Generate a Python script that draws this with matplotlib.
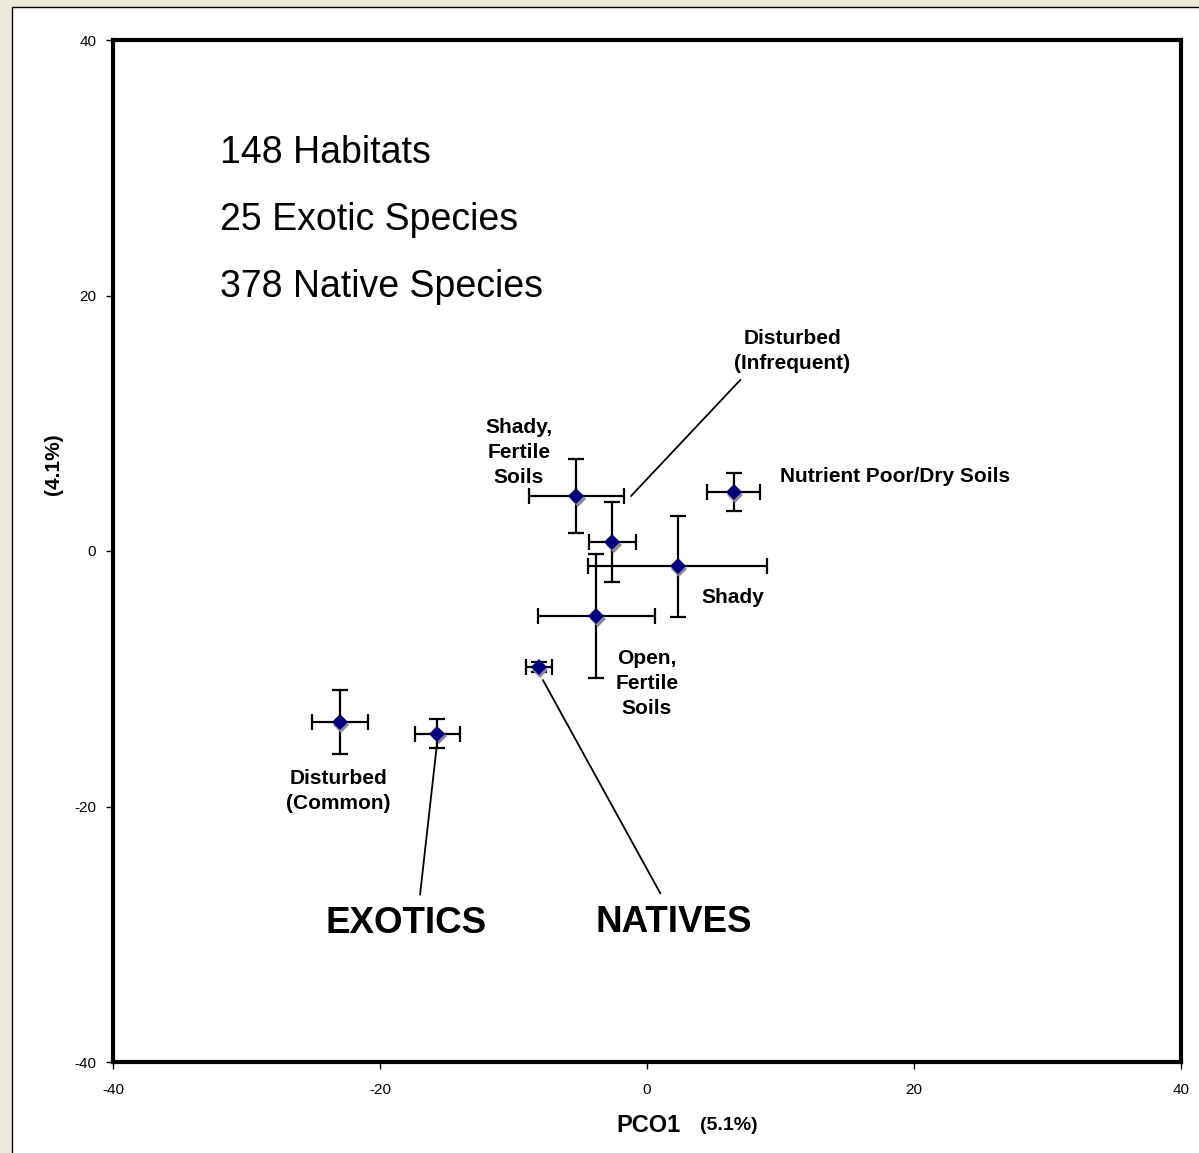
import matplotlib
matplotlib.use("Agg")
import matplotlib.pyplot as plt
from matplotlib.patches import Rectangle
from matplotlib.transforms import offset_copy

plt.rcParams['font.family'] = ['Liberation Sans', 'DejaVu Sans']
plt.rcParams['axes.unicode_minus'] = False

# habitat groups (PCO1, PCO2) with error bars
groups = ["Disturbed (Common)", "Exotics", "Natives", "Shady, Fertile Soils",
          "Disturbed (Infrequent)", "Shady", "Open, Fertile Soils",
          "Nutrient Poor/Dry Soils"]
pco1 = [-23.0, -15.7, -8.1, -5.3, -2.6, 2.3, -3.8, 6.5]
pco2 = [-13.4, -14.3, -9.1, 4.3, 0.7, -1.2, -5.1, 4.6]
pco1_err = [2.1, 1.7, 1.0, 3.55, 1.75, 6.7, 4.4, 2.0]
pco2_err = [2.5, 1.15, 0.4, 2.9, 3.1, 3.95, 4.85, 1.5]

summary = ["148 Habitats", "25 Exotic Species", "378 Native Species"]
ticks = [-40, -20, 0, 20, 40]

fig = plt.figure(figsize=(11.99, 11.53), dpi=100, facecolor='#EDE9DA')
# white panel with thin border, behind the axes
fig.patches.append(Rectangle((12 / 1199, -0.1), 1.2, 1 - 7 / 1153 + 0.1,
                             transform=fig.transFigure, facecolor='white',
                             edgecolor='black', linewidth=1, zorder=-5))

ax = fig.add_axes([113 / 1199, 1 - 1062 / 1153, 1068 / 1199, 1022 / 1153])
ax.set_facecolor('white')
ax.set_zorder(2)

ax.errorbar(pco1, pco2, xerr=pco1_err, yerr=pco2_err, fmt='none',
            ecolor='black', elinewidth=1.6, capsize=6, capthick=1.6, zorder=2)
shadow = offset_copy(ax.transData, fig=fig, x=1.5, y=-2.5, units='dots')
ax.plot(pco1, pco2, 'D', color='#8c8c8c', markersize=8, markeredgewidth=0,
        transform=shadow, zorder=3)
ax.plot(pco1, pco2, 'D', color='#000080', markersize=8, markeredgewidth=0,
        zorder=4)

ax.set_xlim(-40, 40)
ax.set_ylim(-40, 40)
ax.set_xticks(ticks)
ax.set_yticks(ticks)
ax.tick_params(axis='both', direction='out', length=5, width=1, labelsize=11)
ax.tick_params(axis='x', pad=10)
ax.tick_params(axis='y', pad=7)
for s in ax.spines.values():
    s.set_linewidth(3)

# summary text
for i, t in enumerate(summary):
    ax.text(-32.0, 31.15 - 5.25 * i, t, fontsize=27, va='center', ha='left')

lab = dict(fontsize=15, fontweight='bold', ha='center', va='center',
           linespacing=1.4)
ax.text(-9.6, 7.7, "Shady,\nFertile\nSoils", **lab)
ax.text(10.9, 15.65, "Disturbed\n(Infrequent)", **lab)
ax.text(9.95, 5.8, "Nutrient Poor/Dry Soils", **dict(lab, ha='left'))
ax.text(6.45, -3.65, "Shady", **lab)
ax.text(0.0, -10.35, "Open,\nFertile\nSoils", **lab)
ax.text(-23.1, -18.75, "Disturbed\n(Common)", **lab)

big = dict(fontsize=26.5, fontweight='bold', ha='center', va='center')
ax.text(-18.05, -29.15, "EXOTICS", **big)
ax.text(2.0, -29.05, "NATIVES", **big)

# leader lines
line = dict(arrowstyle='-', color='black', lw=1.3, shrinkA=0, shrinkB=0)
ax.annotate('', xy=(-1.2, 4.3), xytext=(7.0, 13.4), arrowprops=line)
ax.annotate('', xy=(-15.7, -14.8), xytext=(-17.0, -26.9), arrowprops=line)
ax.annotate('', xy=(-7.8, -10.1), xytext=(1.0, -26.8), arrowprops=line)

# axis titles
fig.text(681 / 1199, 1 - 1125 / 1153, "PCO1", fontsize=17, fontweight='bold',
         ha='right', va='center')
fig.text(700 / 1199, 1 - 1125 / 1153, "(5.1%)", fontsize=14,
         fontweight='bold', ha='left', va='center')
fig.text(53 / 1199, 1 - 464 / 1153, "(4.1%)", fontsize=15, fontweight='bold',
         ha='center', va='center', rotation=90)

fig.savefig('out.png', dpi=100, facecolor=fig.get_facecolor())
